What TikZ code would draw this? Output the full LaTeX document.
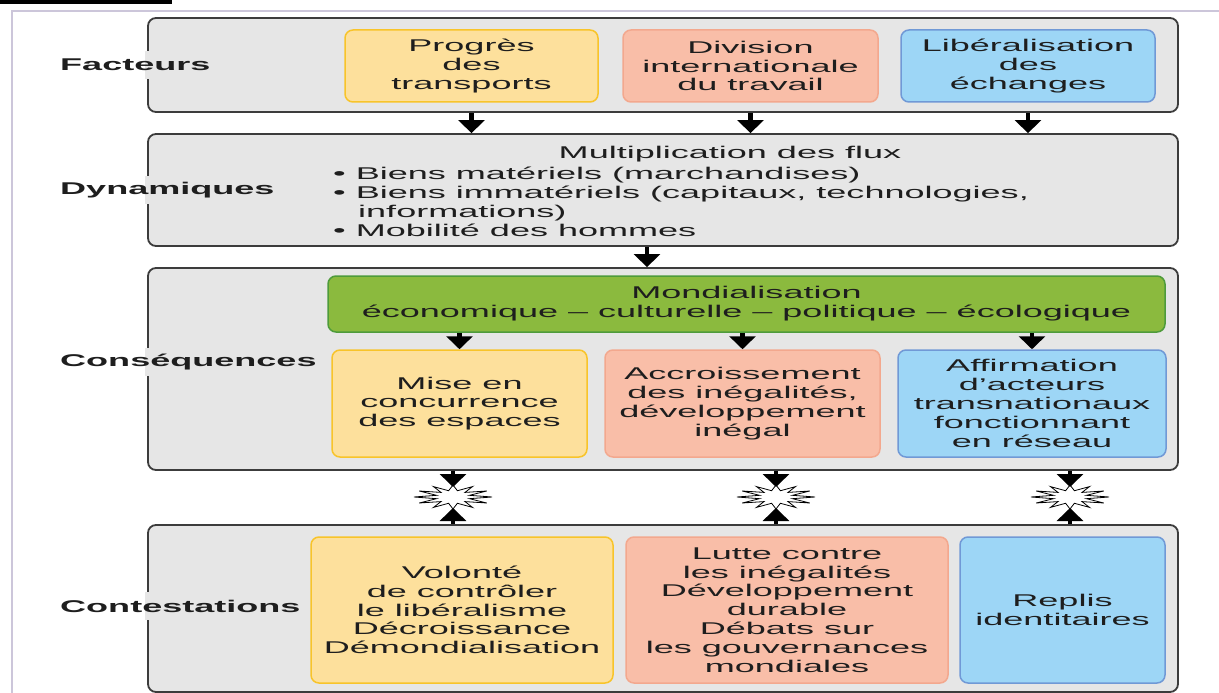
\documentclass[tikz,border=0pt]{standalone}
\usepackage{fontspec}
\setmainfont{Liberation Sans}[FakeStretch=2.12]
\usetikzlibrary{arrows.meta}
\definecolor{boxgray}{HTML}{E6E6E6}
\definecolor{boxline}{HTML}{3C3C3C}
\definecolor{yelfill}{HTML}{FDE09C}
\definecolor{yelline}{HTML}{F8C42A}
\definecolor{salfill}{HTML}{F9BEA8}
\definecolor{salline}{HTML}{F3A88E}
\definecolor{blufill}{HTML}{9DD6F6}
\definecolor{bluline}{HTML}{7099D6}
\definecolor{grnfill}{HTML}{8BBA3E}
\definecolor{grnline}{HTML}{4E9B3B}
\definecolor{framecol}{HTML}{CCC6DA}
\definecolor{txt}{HTML}{1E1E1E}
\begin{document}
\begin{tikzpicture}[x=1pt,y=-1pt,
  every node/.style={font=\fontsize{17}{18.8}\selectfont, text=txt, inner sep=0pt},
  graybox/.style={draw=boxline, line width=1.8pt, fill=boxgray, rounded corners=8pt, minimum width=1030pt},
  cbox/.style={line width=1.5pt, rounded corners=8pt, align=center},
  ybox/.style={cbox, draw=yelline, fill=yelfill},
  sbox/.style={cbox, draw=salline, fill=salfill},
  bbox/.style={cbox, draw=bluline, fill=blufill},
  gbox/.style={cbox, draw=grnline, fill=grnfill},
  lab/.style={anchor=west, font=\fontsize{17}{18.8}\selectfont\bfseries},
  arr/.style={line width=4.5pt, -{Triangle[length=13pt,width=26pt]}},
  burst/.style={draw=black, fill=white, line width=0.8pt},
]
\useasboundingbox (0,0) rectangle (1219,693);
\fill[white] (0,0) rectangle (1219,693);
\fill[black] (0,0) rectangle (172,4);
\draw[framecol, line width=2pt] (12,693) -- (12,11) -- (1219,11);

% rows
\node[graybox, minimum height=94pt] (r1) at (663,65) {};
\node[graybox, minimum height=112pt] (r2) at (663,190) {};
\node[graybox, minimum height=202pt] (r3) at (663,369) {};
\node[graybox, minimum height=167pt] (r4) at (663,608.5) {};

% row 1
\node[ybox, minimum width=253pt, minimum height=72pt] (f1) at (471.5,66) {Progrès\\des\\transports};
\node[sbox, minimum width=255pt, minimum height=72pt] (f2) at (750.5,66) {Division\\internationale\\du travail};
\node[bbox, minimum width=254pt, minimum height=72pt] (f3) at (1028,66) {Libéralisation\\des\\échanges};

% row 2
\node (mt) at (730,154) {Multiplication des flux};
\node[anchor=west, align=left] (ml) at (333,202) {• Biens matériels (marchandises)\\• Biens immatériels (capitaux, technologies,\\\hspace*{25pt}informations)\\• Mobilité des hommes};

% row 3
\node[gbox, minimum width=837pt, minimum height=56pt] (g) at (746.5,304) {Mondialisation\\économique – culturelle – politique – écologique};
\node[ybox, minimum width=255pt, minimum height=107pt] (c1) at (459.5,403.5) {Mise en\\concurrence\\des espaces};
\node[sbox, minimum width=275pt, minimum height=107pt] (c2) at (742.5,403.5) {Accroissement\\des inégalités,\\développement\\inégal};
\node[bbox, minimum width=268pt, minimum height=107pt] (c3) at (1032,403.5) {Affirmation\\d’acteurs\\transnationaux\\fonctionnant\\en réseau};

% row 4
\node[ybox, minimum width=302pt, minimum height=146pt] (k1) at (462,610) {Volonté\\de contrôler\\le libéralisme\\Décroissance\\Démondialisation};
\node[sbox, minimum width=322pt, minimum height=146pt] (k2) at (787,610) {Lutte contre\\les inégalités\\Développement\\durable\\Débats sur\\les gouvernances\\mondiales};
\node[bbox, minimum width=205pt, minimum height=146pt] (k3) at (1062.5,610) {Replis\\identitaires};

% label gaps in left borders
\fill[boxgray] (145,51) rectangle (151,79);
\fill[boxgray] (145,176) rectangle (151,204);
\fill[boxgray] (145,348) rectangle (151,376);
\fill[boxgray] (145,592) rectangle (151,620);

% labels
\node[lab] (l1) at (60,65) {Facteurs};
\node[lab] (l2) at (60,190) {Dynamiques};
\node[lab] (l3) at (60,362) {Conséquences};
\node[lab] (l4) at (60,606) {Contestations};

% arrows
\foreach \n in {f1,f2,f3}
  \draw[arr] (\n.south |- r1.south) -- (\n.south |- r2.north);
\draw[arr] ([xshift=-16pt]r2.south) -- ([xshift=-16pt]r2.south |- r3.north);
\foreach \n in {c1,c2,c3}
  \draw[arr] (\n.north |- g.south) -- (\n.north);

% bursts
\foreach \i/\cx in {1/453,2/776,3/1070}{
  \draw[burst] plot[samples at={0,...,23}, variable=\k]
    ({\cx + (mod(\k,2)<0.5 ? 39 : 17)*cos(\k*15)}, {497 + (mod(\k,2)<0.5 ? 12 : 6.5)*sin(\k*15)}) -- cycle;
  \coordinate (s\i n) at (\cx,487);
  \coordinate (s\i s) at (\cx,508);
  \draw[arr] (s\i n |- r3.south) -- (s\i n);
  \draw[arr] (s\i s |- r4.north) -- (s\i s);
}
\end{tikzpicture}
\end{document}
